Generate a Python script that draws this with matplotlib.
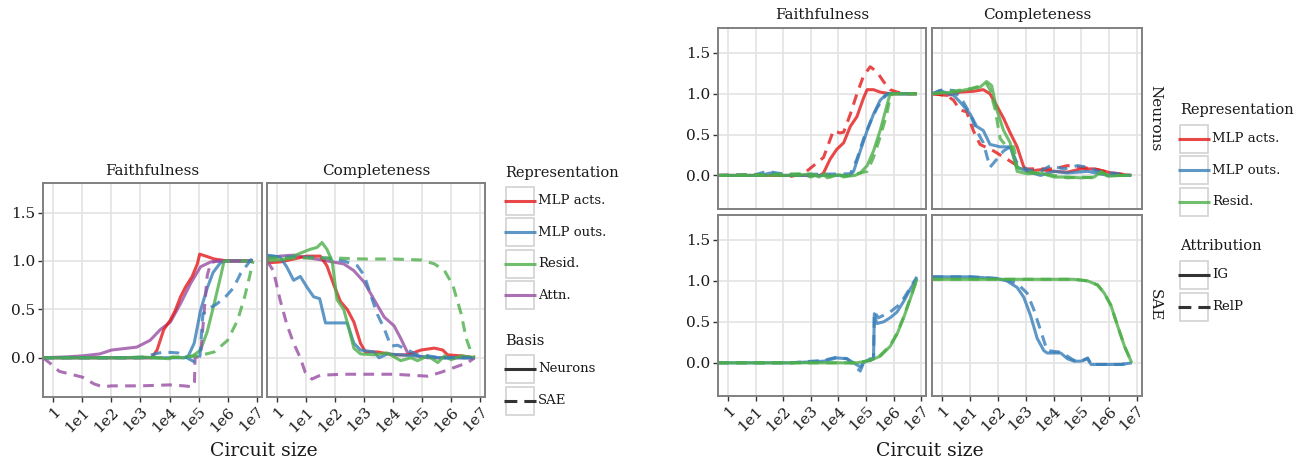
import matplotlib
matplotlib.use("Agg")
import matplotlib.pyplot as plt
from matplotlib.patches import Rectangle
from matplotlib.lines import Line2D
from matplotlib.ticker import NullLocator

plt.rcParams['font.family'] = ['DejaVu Serif']

# ---------------- data (x = log10 circuit size, y = metric) ----------------
# Left chart: Faithfulness
lf_acts_neu_x = [-0.36, 2, 3.39, 3.57, 3.8, 4.03, 4.2, 4.38, 4.55, 4.78, 4.96, 5.04, 5.25, 5.54, 6.0, 6.87]
lf_acts_neu_y = [0, 0, 0, 0.08, 0.29, 0.39, 0.49, 0.63, 0.73, 0.84, 0.97, 1.07, 1.05, 1.02, 1.0, 1.0]
lf_outs_neu_x = [-0.36, 3, 4.5, 4.65, 4.85, 5.07, 5.3, 5.5, 5.75, 5.95, 6.87]
lf_outs_neu_y = [0, 0, 0, 0.02, 0.15, 0.49, 0.72, 0.88, 0.98, 1.0, 1.0]
lf_resid_neu_x = [-0.36, 2.5, 3.0, 3.5, 4.0, 4.1, 4.5, 4.8, 5.07, 5.3, 5.54, 5.77, 5.88, 6.87]
lf_resid_neu_y = [0, 0, 0.01, 0, -0.01, 0.01, 0, 0.02, 0.08, 0.27, 0.56, 0.85, 1.0, 1.0]
lf_attn_neu_x = [-0.36, 0.5, 1.0, 1.6, 2.0, 2.87, 3.33, 3.68, 4.03, 4.38, 4.73, 5.07, 5.42, 5.8, 6.87]
lf_attn_neu_y = [0, 0.01, 0.02, 0.04, 0.08, 0.11, 0.18, 0.29, 0.37, 0.56, 0.77, 0.94, 0.99, 1.0, 1.0]
lf_outs_sae_x = [-0.36, 3.0, 3.5, 3.8, 4.3, 4.6, 4.9, 5.05, 5.15, 5.3, 5.6, 5.9, 6.2, 6.45, 6.7, 6.87]
lf_outs_sae_y = [0, 0, 0.04, 0.06, 0.05, 0.0, -0.05, 0.02, 0.45, 0.5, 0.55, 0.62, 0.72, 0.87, 0.97, 1.03]
lf_resid_sae_x = [-0.36, 4.0, 4.5, 5.0, 5.54, 6.0, 6.35, 6.59, 6.76, 6.88]
lf_resid_sae_y = [0, 0, 0.01, 0.02, 0.06, 0.18, 0.39, 0.63, 0.84, 1.0]
lf_attn_sae_x = [-0.36, -0.1, 0.2, 0.6, 1.0, 1.4, 1.7, 2.0, 3.0, 4.0, 4.5, 4.8, 4.86, 4.88, 5.07, 5.2, 5.3, 5.42, 5.6, 6.87]
lf_attn_sae_y = [0, -0.06, -0.14, -0.17, -0.2, -0.27, -0.3, -0.29, -0.29, -0.28, -0.29, -0.3, -0.25, 0.0, 0.02, 0.5, 0.85, 0.98, 1.0, 1.0]

# Left chart: Completeness
lc_acts_neu_x = [-0.36, 0.1, 0.56, 1.02, 1.48, 1.71, 1.95, 2.18, 2.41, 2.64, 2.87, 3.04, 3.45, 4.03, 4.5, 4.96, 5.42, 5.71, 5.88, 6.35, 6.81]
lc_acts_neu_y = [0.98, 0.99, 1.02, 1.05, 1.05, 0.95, 0.75, 0.58, 0.5, 0.37, 0.15, 0.06, 0.06, 0.03, 0.03, 0.08, 0.1, 0.08, 0.03, 0.02, 0.0]
lc_outs_neu_x = [-0.36, 0.09, 0.32, 0.56, 0.79, 1.02, 1.25, 1.46, 1.66, 2.41, 2.64, 2.87, 3.34, 3.51, 3.8, 4.26, 4.73, 5.42, 6.81]
lc_outs_neu_y = [1.06, 1.04, 0.94, 0.8, 0.84, 0.73, 0.63, 0.61, 0.36, 0.36, 0.15, 0.08, 0.06, 0.0, 0.04, 0.03, 0.02, 0.0, 0.0]
lc_resid_neu_x = [-0.36, 0.32, 0.79, 1.13, 1.37, 1.54, 1.71, 1.89, 2.06, 2.29, 2.47, 2.64, 2.87, 3.34, 3.79, 4.26, 4.61, 4.84, 5.19, 5.54, 5.77, 6.0, 6.35, 6.81]
lc_resid_neu_y = [1.0, 1.02, 1.08, 1.12, 1.14, 1.19, 1.12, 1.0, 0.6, 0.5, 0.3, 0.1, 0.04, 0.03, 0.05, -0.03, 0.0, -0.03, 0.02, -0.05, 0.02, -0.02, 0.02, 0.0]
lc_attn_neu_x = [-0.36, 0.09, 0.56, 1.13, 1.71, 2.29, 2.64, 3.0, 3.34, 3.69, 4.03, 4.26, 4.5, 4.84, 5.19, 6.81]
lc_attn_neu_y = [1.02, 1.05, 1.06, 1.03, 1.0, 0.97, 0.9, 0.78, 0.6, 0.42, 0.33, 0.2, 0.05, 0.02, 0.0, 0.0]
lc_outs_sae_x = [-0.36, 0.56, 1.13, 1.71, 2.29, 2.76, 3.0, 3.22, 3.45, 3.69, 3.92, 4.15, 4.5, 4.84, 5.19, 5.65, 6.81]
lc_outs_sae_y = [1.05, 1.04, 1.04, 1.03, 1.0, 0.95, 0.85, 0.65, 0.45, 0.3, 0.12, 0.13, 0.08, 0.03, 0.02, 0.0, 0.0]
lc_resid_sae_x = [-0.36, 1.0, 2.0, 3.0, 4.0, 4.96, 5.42, 5.77, 6.06, 6.35, 6.52, 6.7, 6.81]
lc_resid_sae_y = [1.03, 1.03, 1.03, 1.02, 1.02, 1.01, 0.97, 0.9, 0.75, 0.45, 0.2, 0.05, 0.0]
lc_attn_sae_x = [-0.36, -0.14, 0.09, 0.32, 0.56, 0.79, 0.96, 1.19, 1.48, 2.29, 4.03, 5.19, 5.65, 6.11, 6.58, 6.81]
lc_attn_sae_y = [1.0, 0.9, 0.6, 0.35, 0.15, 0.0, -0.15, -0.22, -0.18, -0.17, -0.17, -0.19, -0.15, -0.1, -0.05, 0.0]

# Right chart: Neurons / Faithfulness
rfn_acts_ig_x = [-0.36, 2, 3.34, 3.46, 3.7, 3.94, 4.19, 4.43, 4.67, 4.91, 5.04, 5.27, 5.51, 5.87, 6.84]
rfn_acts_ig_y = [0, 0, 0, 0.03, 0.2, 0.32, 0.4, 0.6, 0.72, 0.95, 1.05, 1.05, 1.02, 1.0, 1.0]
rfn_acts_relp_x = [-0.36, 1.5, 2.3, 2.74, 3.1, 3.46, 3.82, 4.05, 4.19, 4.43, 4.67, 4.91, 5.15, 5.39, 5.63, 5.87, 6.12, 6.48, 6.84]
rfn_acts_relp_y = [0, 0.01, -0.01, 0.02, 0.12, 0.22, 0.55, 0.52, 0.53, 0.75, 1.0, 1.22, 1.33, 1.27, 1.15, 1.05, 1.02, 1.0, 1.0]
rfn_outs_ig_x = [-0.36, 1.2, 1.53, 2.0, 3.0, 4.43, 4.55, 4.79, 5.04, 5.27, 5.51, 5.75, 6.84]
rfn_outs_ig_y = [0, 0, 0.03, 0, 0, 0, 0.05, 0.3, 0.55, 0.75, 0.92, 1.0, 1.0]
rfn_outs_relp_x = [-0.36, 1.0, 1.41, 1.77, 2.2, 4.43, 4.67, 4.91, 5.15, 5.39, 5.63, 5.81, 6.84]
rfn_outs_relp_y = [0, 0.01, 0.05, 0.03, 0.01, 0.02, 0.2, 0.45, 0.65, 0.82, 0.95, 1.0, 1.0]
rfn_resid_ig_x = [-0.36, 2.5, 3.0, 3.3, 3.5, 3.7, 4.0, 4.3, 4.6, 4.79, 5.04, 5.27, 5.51, 5.75, 5.87, 6.84]
rfn_resid_ig_y = [0, 0, 0.02, -0.02, 0.02, -0.02, 0.01, -0.01, 0, 0.03, 0.12, 0.3, 0.55, 0.85, 1.0, 1.0]
rfn_resid_relp_x = [-0.36, 2.6, 3.0, 3.4, 3.6, 3.9, 4.2, 4.5, 4.79, 5.04, 5.27, 5.51, 5.75, 5.87, 5.95, 6.84]
rfn_resid_relp_y = [0, 0.02, -0.02, 0.03, -0.03, 0.02, -0.02, 0.01, 0.03, 0.05, 0.22, 0.47, 0.75, 0.95, 1.0, 1.0]

# Right chart: Neurons / Completeness
rcn_acts_ig_x = [-0.36, 0.15, 0.63, 1.11, 1.47, 1.71, 1.96, 2.2, 2.44, 2.69, 2.93, 3.05, 3.53, 4.02, 4.5, 4.99, 5.47, 5.84, 6.2, 6.8]
rcn_acts_ig_y = [1.0, 0.98, 1.02, 1.03, 1.05, 1.0, 0.85, 0.7, 0.52, 0.35, 0.1, 0.05, 0.07, 0.05, 0.04, 0.08, 0.08, 0.05, 0.02, 0.0]
rcn_acts_relp_x = [-0.36, 0.15, 0.4, 0.63, 0.87, 1.11, 1.35, 1.84, 2.32, 2.69, 3.05, 3.53, 4.02, 4.5, 4.99, 5.47, 5.96, 6.8]
rcn_acts_relp_y = [1.0, 0.98, 0.92, 0.8, 0.78, 0.55, 0.38, 0.3, 0.2, 0.12, 0.08, 0.08, 0.08, 0.12, 0.1, 0.08, 0.04, 0.0]
rcn_outs_ig_x = [-0.36, -0.1, 0.4, 0.63, 1.0, 1.23, 1.47, 1.71, 2.08, 2.44, 2.69, 3.05, 3.53, 4.02, 4.5, 5.23, 5.96, 6.8]
rcn_outs_ig_y = [1.0, 1.04, 0.98, 0.9, 0.75, 0.6, 0.55, 0.38, 0.35, 0.35, 0.1, 0.05, 0.0, 0.05, 0.03, 0.05, 0.0, 0.0]
rcn_outs_relp_x = [-0.36, 0.0, 0.4, 0.75, 1.0, 1.23, 1.47, 1.71, 1.96, 2.2, 2.44, 2.69, 3.05, 3.53, 3.89, 4.38, 4.87, 5.23, 5.6, 6.8]
rcn_outs_relp_y = [1.0, 1.05, 1.04, 0.9, 0.75, 0.55, 0.4, 0.1, 0.2, 0.3, 0.35, 0.15, 0.07, 0.05, 0.12, 0.08, 0.12, 0.1, 0.05, 0.0]
rcn_resid_ig_x = [-0.36, 0.4, 1.0, 1.35, 1.59, 1.77, 1.96, 2.2, 2.44, 2.69, 3.05, 3.53, 4.02, 4.5, 4.99, 5.47, 5.72, 5.96, 6.44, 6.8]
rcn_resid_ig_y = [1.0, 1.02, 1.06, 1.08, 1.15, 1.1, 0.8, 0.55, 0.4, 0.05, 0.02, 0.03, -0.02, -0.02, -0.03, -0.02, 0.05, -0.01, 0.0, 0.0]
rcn_resid_relp_x = [-0.36, 1.0, 1.59, 1.71, 1.9, 2.08, 2.32, 2.57, 2.69, 3.05, 3.53, 4.02, 4.5, 4.99, 5.47, 5.72, 6.0, 6.8]
rcn_resid_relp_y = [1.0, 1.06, 1.12, 1.05, 0.8, 0.45, 0.35, 0.35, 0.1, 0.05, 0.02, 0.0, -0.03, -0.02, -0.03, 0.03, 0.0, 0.0]

# Right chart: SAE / Faithfulness
rfs_outs_ig_x = [-0.36, 2.26, 3.46, 3.94, 4.31, 4.55, 4.79, 4.91, 5.15, 5.27, 5.3, 5.39, 5.63, 5.87, 6.12, 6.36, 6.6, 6.84]
rfs_outs_ig_y = [0, 0, 0.02, 0.06, 0.05, 0.0, -0.05, 0.0, 0.05, 0.05, 0.6, 0.48, 0.5, 0.55, 0.62, 0.75, 0.9, 1.03]
rfs_outs_relp_x = [-0.36, 2.26, 3.46, 3.94, 4.31, 4.55, 4.79, 4.91, 5.15, 5.27, 5.3, 5.45, 5.87, 6.24, 6.48, 6.84]
rfs_outs_relp_y = [0, 0, 0.03, 0.07, 0.05, -0.03, -0.1, 0.0, 0.03, 0.05, 0.62, 0.55, 0.62, 0.72, 0.85, 1.05]
rfs_resid_ig_x = [-0.36, 4.67, 5.15, 5.51, 5.87, 6.12, 6.36, 6.6, 6.84]
rfs_resid_ig_y = [0, 0, 0.03, 0.08, 0.2, 0.35, 0.55, 0.78, 1.02]
rfs_resid_relp_x = [-0.36, 4.67, 5.15, 5.51, 5.87, 6.12, 6.36, 6.6, 6.84]
rfs_resid_relp_y = [0, 0, 0.03, 0.09, 0.21, 0.36, 0.56, 0.79, 1.02]

# Right chart: SAE / Completeness
rcs_outs_ig_x = [-0.36, 1.0, 1.96, 2.32, 2.69, 2.93, 3.17, 3.41, 3.65, 3.77, 4.26, 4.5, 4.74, 4.99, 5.23, 5.35, 5.72, 6.44, 6.82]
rcs_outs_ig_y = [1.05, 1.05, 1.03, 1.0, 0.92, 0.8, 0.58, 0.3, 0.15, 0.12, 0.12, 0.05, 0.02, 0.02, 0.05, -0.02, -0.02, -0.02, 0.0]
rcs_outs_relp_x = [-0.36, 1.0, 1.96, 2.32, 2.69, 3.05, 3.29, 3.53, 3.77, 4.26, 4.5, 4.74, 4.99, 5.23, 5.35, 6.44, 6.82]
rcs_outs_relp_y = [1.05, 1.05, 1.03, 1.01, 0.97, 0.85, 0.65, 0.4, 0.15, 0.13, 0.08, 0.03, 0.02, 0.06, -0.02, -0.02, 0.0]
rcs_resid_ig_x = [-0.36, 4.02, 4.74, 5.23, 5.59, 5.83, 6.07, 6.31, 6.56, 6.82]
rcs_resid_ig_y = [1.02, 1.02, 1.02, 1.0, 0.95, 0.85, 0.7, 0.45, 0.2, 0.0]
rcs_resid_relp_x = [-0.36, 4.02, 4.74, 5.23, 5.59, 5.83, 6.07, 6.31, 6.56, 6.82]
rcs_resid_relp_y = [1.02, 1.02, 1.02, 1.0, 0.95, 0.85, 0.7, 0.45, 0.2, 0.0]

x_tick_exps = [0, 1, 2, 3, 4, 5, 6, 7]
x_tick_labels = ['1', '1e1', '1e2', '1e3', '1e4', '1e5', '1e6', '1e7']
y_ticks = [0.0, 0.5, 1.0, 1.5]
y_tick_labels = ['0.0', '0.5', '1.0', '1.5']

left_rep_labels = ['MLP acts.', 'MLP outs.', 'Resid.', 'Attn.']
right_rep_labels = ['MLP acts.', 'MLP outs.', 'Resid.']
basis_labels = ['Neurons', 'SAE']
attr_labels = ['IG', 'RelP']

# ---------------- style ----------------
C = {'acts': '#E41A1C', 'outs': '#377EB8', 'resid': '#4DAF4A', 'attn': '#984EA3'}
ALPHA = 0.8
LW = 2.2
DASH = (0, (3.5, 2.4))
W, H = 1296, 463

fig = plt.figure(figsize=(W / 100, H / 100), dpi=100)


def add_ax(x0, y0, x1, y1):
    return fig.add_axes([x0 / W, 1 - y1 / H, (x1 - x0) / W, (y1 - y0) / H])


def style(ax, show_xlab, show_xticks, show_y):
    ax.set_xscale('log')
    ax.set_xlim(10 ** -0.36, 10 ** 7.17)
    ax.set_ylim(-0.405, 1.805)
    ax.set_xticks([10.0 ** e for e in x_tick_exps])
    ax.set_xticklabels(x_tick_labels)
    ax.xaxis.set_minor_locator(NullLocator())
    ax.set_yticks(y_ticks)
    ax.set_yticklabels(y_tick_labels)
    ax.grid(True, color='#e3e3e3', lw=1.2)
    ax.set_axisbelow(True)
    for s in ax.spines.values():
        s.set_color('#808080')
        s.set_linewidth(1.4)
    ax.tick_params(length=3.5, width=1.0, color='#333333', labelsize=11,
                   labelcolor='#1a1a1a', pad=2)
    if show_xlab:
        for lab in ax.get_xticklabels():
            lab.set_rotation(45)
            lab.set_ha('right')
            lab.set_va('top')
            lab.set_rotation_mode('anchor')
    else:
        ax.tick_params(axis='x', labelbottom=False)
    if not show_xticks:
        ax.tick_params(axis='x', length=0)
    if not show_y:
        ax.tick_params(axis='y', length=0, labelleft=False)


def draw(ax, xe, y, col, dashed):
    ax.plot([10.0 ** v for v in xe], y, color=C[col], alpha=ALPHA, lw=LW,
            ls=DASH if dashed else '-', solid_capstyle='butt', dash_capstyle='butt')


# Left chart
axLF = add_ax(43, 183, 261.5, 397)
axLC = add_ax(267, 183, 485, 397)
style(axLF, True, True, True)
style(axLC, True, True, False)
draw(axLF, lf_attn_neu_x, lf_attn_neu_y, 'attn', False)
draw(axLF, lf_acts_neu_x, lf_acts_neu_y, 'acts', False)
draw(axLF, lf_outs_neu_x, lf_outs_neu_y, 'outs', False)
draw(axLF, lf_resid_neu_x, lf_resid_neu_y, 'resid', False)
draw(axLF, lf_attn_sae_x, lf_attn_sae_y, 'attn', True)
draw(axLF, lf_outs_sae_x, lf_outs_sae_y, 'outs', True)
draw(axLF, lf_resid_sae_x, lf_resid_sae_y, 'resid', True)

draw(axLC, lc_attn_neu_x, lc_attn_neu_y, 'attn', False)
draw(axLC, lc_acts_neu_x, lc_acts_neu_y, 'acts', False)
draw(axLC, lc_outs_neu_x, lc_outs_neu_y, 'outs', False)
draw(axLC, lc_resid_neu_x, lc_resid_neu_y, 'resid', False)
draw(axLC, lc_attn_sae_x, lc_attn_sae_y, 'attn', True)
draw(axLC, lc_outs_sae_x, lc_outs_sae_y, 'outs', True)
draw(axLC, lc_resid_sae_x, lc_resid_sae_y, 'resid', True)

# Right chart
axRFN = add_ax(718, 28, 926, 208.5)
axRCN = add_ax(932.5, 28, 1141.5, 208.5)
axRFS = add_ax(718, 215, 926, 396)
axRCS = add_ax(932.5, 215, 1141.5, 396)
style(axRFN, False, False, True)
style(axRCN, False, False, False)
style(axRFS, True, True, True)
style(axRCS, True, True, False)

draw(axRFN, rfn_acts_ig_x, rfn_acts_ig_y, 'acts', False)
draw(axRFN, rfn_acts_relp_x, rfn_acts_relp_y, 'acts', True)
draw(axRFN, rfn_outs_ig_x, rfn_outs_ig_y, 'outs', False)
draw(axRFN, rfn_outs_relp_x, rfn_outs_relp_y, 'outs', True)
draw(axRFN, rfn_resid_ig_x, rfn_resid_ig_y, 'resid', False)
draw(axRFN, rfn_resid_relp_x, rfn_resid_relp_y, 'resid', True)

draw(axRCN, rcn_acts_ig_x, rcn_acts_ig_y, 'acts', False)
draw(axRCN, rcn_acts_relp_x, rcn_acts_relp_y, 'acts', True)
draw(axRCN, rcn_outs_ig_x, rcn_outs_ig_y, 'outs', False)
draw(axRCN, rcn_outs_relp_x, rcn_outs_relp_y, 'outs', True)
draw(axRCN, rcn_resid_ig_x, rcn_resid_ig_y, 'resid', False)
draw(axRCN, rcn_resid_relp_x, rcn_resid_relp_y, 'resid', True)

draw(axRFS, rfs_outs_ig_x, rfs_outs_ig_y, 'outs', False)
draw(axRFS, rfs_outs_relp_x, rfs_outs_relp_y, 'outs', True)
draw(axRFS, rfs_resid_ig_x, rfs_resid_ig_y, 'resid', False)
draw(axRFS, rfs_resid_relp_x, rfs_resid_relp_y, 'resid', True)

draw(axRCS, rcs_outs_ig_x, rcs_outs_ig_y, 'outs', False)
draw(axRCS, rcs_outs_relp_x, rcs_outs_relp_y, 'outs', True)
draw(axRCS, rcs_resid_ig_x, rcs_resid_ig_y, 'resid', False)
draw(axRCS, rcs_resid_relp_x, rcs_resid_relp_y, 'resid', True)

# ---------------- overlay for strips, titles, legends ----------------
ov = fig.add_axes([0, 0, 1, 1], zorder=-1)
ov.set_xlim(0, W)
ov.set_ylim(H, 0)
ov.axis('off')
ov.patch.set_alpha(0)

TXT = '#1a1a1a'
ov.text((43 + 261.5) / 2, 171, 'Faithfulness', ha='center', va='center', fontsize=11, color=TXT)
ov.text((267 + 485) / 2, 171, 'Completeness', ha='center', va='center', fontsize=11, color=TXT)
ov.text((718 + 926) / 2, 15, 'Faithfulness', ha='center', va='center', fontsize=11, color=TXT)
ov.text((932.5 + 1141.5) / 2, 15, 'Completeness', ha='center', va='center', fontsize=11, color=TXT)
ov.text(1155, (28 + 208.5) / 2, 'Neurons', ha='center', va='center', rotation=-90, fontsize=11, color=TXT)
ov.text(1155, (215 + 396) / 2, 'SAE', ha='center', va='center', rotation=-90, fontsize=11, color=TXT)
ov.text(264, 451, 'Circuit size', ha='center', va='center', fontsize=13.5, color=TXT)
ov.text(930, 451, 'Circuit size', ha='center', va='center', fontsize=13.5, color=TXT)


def legend_key(x0, yc, color, dashed, label):
    ov.add_patch(Rectangle((x0 + 1, yc - 14), 28, 28, fill=False, ec='#d2d2d2', lw=1.2))
    ov.add_line(Line2D([x0 - 1, x0 + 31], [yc, yc], color=color, lw=LW,
                       alpha=ALPHA if color != '#333333' else 1.0,
                       ls=(0, (4.2, 2.3)) if dashed else '-', solid_capstyle='butt',
                       dash_capstyle='butt'))
    ov.text(x0 + 33, yc, label, ha='left', va='center', fontsize=9.5, color=TXT)


rep_cols = ['#E41A1C', '#377EB8', '#4DAF4A', '#984EA3']

# Left legend
ov.text(505, 173, 'Representation', ha='left', va='center', fontsize=10.5, color=TXT)
for i, lab in enumerate(left_rep_labels):
    legend_key(505, 200.7 + i * 31.5, rep_cols[i], False, lab)
ov.text(505, 341, 'Basis', ha='left', va='center', fontsize=10.5, color=TXT)
for i, lab in enumerate(basis_labels):
    legend_key(505, 369 + i * 31.5, '#333333', i == 1, lab)

# Right legend
ov.text(1180, 110, 'Representation', ha='left', va='center', fontsize=10.5, color=TXT)
for i, lab in enumerate(right_rep_labels):
    legend_key(1179, 138.7 + i * 31.5, rep_cols[i], False, lab)
ov.text(1180, 246, 'Attribution', ha='left', va='center', fontsize=10.5, color=TXT)
for i, lab in enumerate(attr_labels):
    legend_key(1179, 275 + i * 31.5, '#333333', i == 1, lab)

fig.savefig('out.png', dpi=100)
